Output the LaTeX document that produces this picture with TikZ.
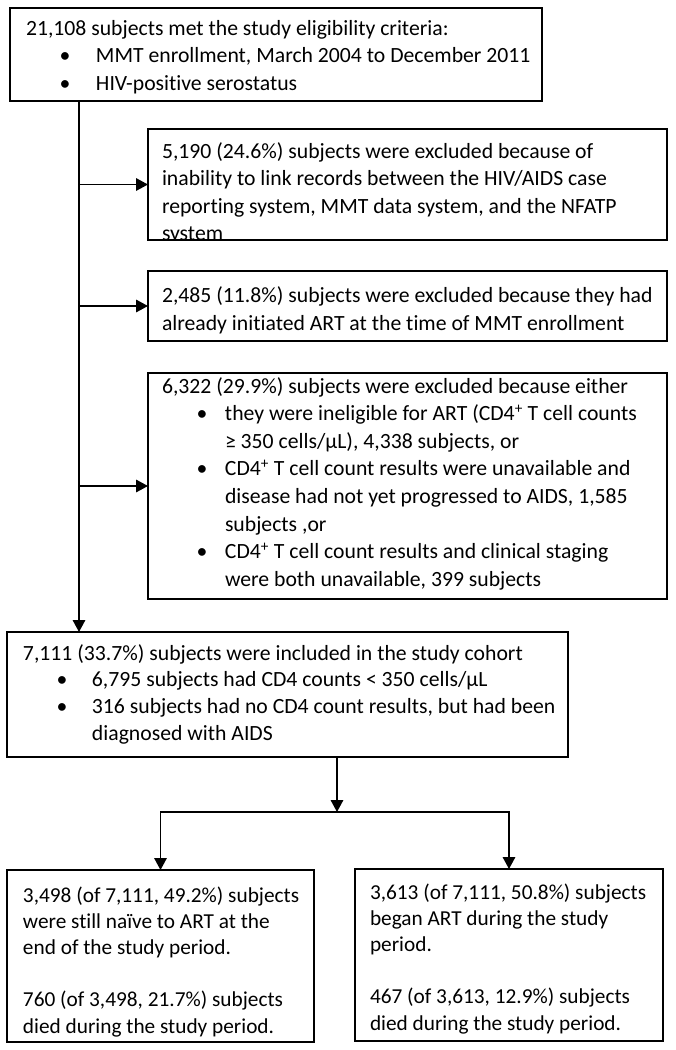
\documentclass[tikz,border=0pt]{standalone}
\usepackage{fontspec}
\setmainfont{Carlito}[RawFeature={-liga;-clig;-calt;-dlig}]
\usetikzlibrary{arrows.meta}
\newcommand\blt[2]{\hspace*{#1pt}\makebox[0pt]{•}\hspace*{\dimexpr #2pt-#1pt\relax}}
\newcommand\ind[1]{\hspace*{#1pt}}
\newcommand\fl{\rule{0pt}{19pt}}
\begin{document}
\begin{tikzpicture}[x=1pt,y=-1pt,
  box/.style={draw, line width=1.4pt, inner sep=0pt, outer sep=0pt, anchor=north west},
  txt/.style={anchor=north west, inner sep=0pt, outer sep=0pt, align=left, font=\fontsize{21.7pt}{#1pt}\selectfont},
  txt/.default=27,
  txs/.style={anchor=north west, inner sep=0pt, outer sep=0pt, align=left, font=\fontsize{21.3pt}{26.2pt}\selectfont},
  arr/.style={line width=1.7pt, -{Triangle[length=12pt,width=12.5pt]}}]
\useasboundingbox[fill=white] (0,0) rectangle (676,1050);

\node[box, minimum width=532pt, minimum height=93pt] (b1) at (10,8) {};
\node[box, minimum width=519pt, minimum height=111pt] (b2) at (148,129) {};
\node[box, minimum width=519pt, minimum height=70pt] (b3) at (148,271) {};
\node[box, minimum width=519pt, minimum height=226pt] (b4) at (148,373) {};
\node[box, minimum width=561pt, minimum height=125pt] (b5) at (7,632) {};
\node[box, minimum width=307pt, minimum height=172pt] (b6) at (7,870) {};
\node[box, minimum width=308pt, minimum height=172pt] (b7) at (355,869) {};

\node[txt=27.5] (t1) at (26,16) {\fl 21,108 subjects met the study eligibility criteria:\\
\blt{39}{70}MMT enrollment, March 2004 to December 2011\\
\blt{39}{70}HIV-positive serostatus};

\begin{scope}
\clip (b2.north west) rectangle (b2.south east);
\node[txt=27.5] (t2) at (162,139) {\fl 5,190 (24.6\%) subjects were excluded because of\\
inability to link records between the HIV/AIDS case\\
reporting system, MMT data system, and the NFATP\\
system};
\end{scope}

\node[txt=28] (t3) at (162,283) {\fl 2,485 (11.8\%) subjects were excluded because they had\\
already initiated ART at the time of MMT enrollment};

\node[txt=27.6] (t4) at (162,374) {\fl 6,322 (29.9\%) subjects were excluded because either\\
\blt{40}{63}they were ineligible for ART (CD4\textsuperscript{+} T cell counts\\
\ind{63}≥ 350 cells/µL), 4,338 subjects, or\\
\blt{40}{63}CD4\textsuperscript{+} T cell count results were unavailable and\\
\ind{63}disease had not yet progressed to AIDS, 1,585\\
\ind{63}subjects ,or\\
\blt{40}{63}CD4\textsuperscript{+} T cell count results and clinical staging\\
\ind{63}were both unavailable, 399 subjects};

\node[txt=26.8] (t5) at (23,641) {\fl 7,111 (33.7\%) subjects were included in the study cohort\\
\blt{39}{69}6,795 subjects had CD4 counts < 350 cells/µL\\
\blt{39}{69}316 subjects had no CD4 count results, but had been\\
\ind{69}diagnosed with AIDS};

\node[txs] (t6) at (23,883) {\fl 3,498 (of 7,111, 49.2\%) subjects\\
were still naïve to ART at the\\
end of the study period.\\
\mbox{}\\
760 (of 3,498, 21.7\%) subjects\\
died during the study period.};

\node[txs] (t7) at (370,880) {\fl 3,613 (of 7,111, 50.8\%) subjects\\
began ART during the study\\
period.\\
\mbox{}\\
467 (of 3,613, 12.9\%) subjects\\
died during the study period.};

\coordinate (sx) at (79,0);
\coordinate (split) at (337,812);
\draw[arr] (b1.south -| sx) -- (b5.north -| sx);
\foreach \b in {b2,b3,b4} \draw[arr] (\b.west -| sx) -- (\b.west);
\draw[arr] (b5.south -| split) -- (split);
\draw[arr] (split) -| (b6.north);
\draw[arr] (split) -| (b7.north);
\end{tikzpicture}
\end{document}
